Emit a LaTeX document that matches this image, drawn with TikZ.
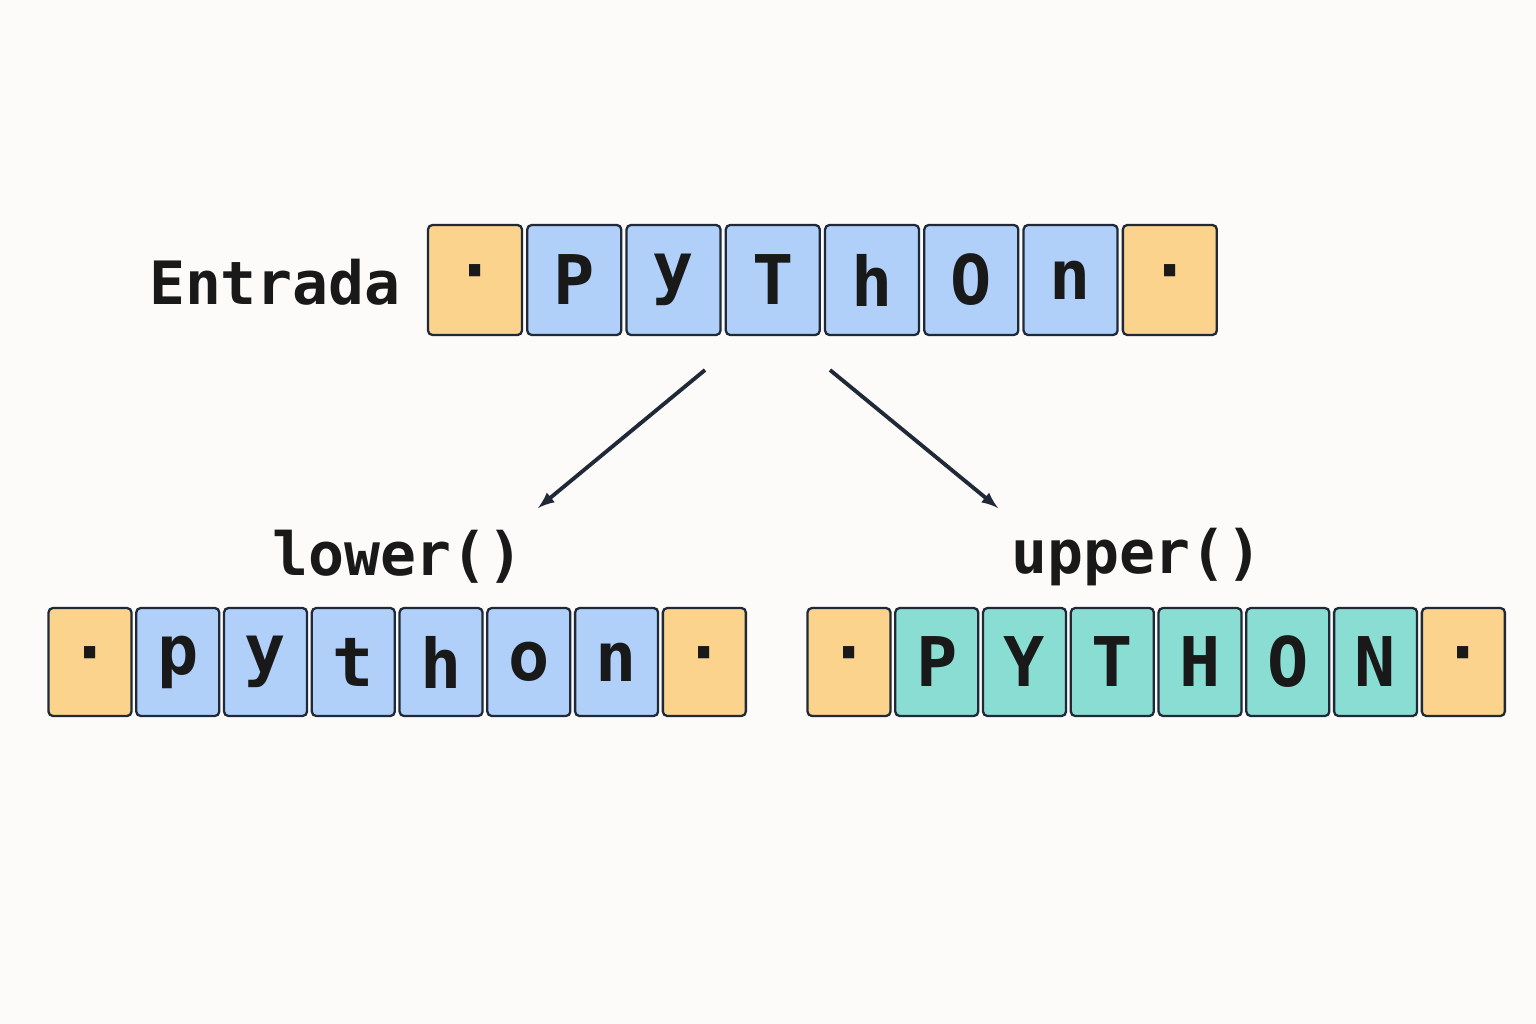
\documentclass[tikz,border=0pt]{standalone}
\usepackage{fontspec}
\setmonofont{DejaVu Sans Mono}
\usetikzlibrary{positioning}
\definecolor{bgcol}{HTML}{FCFBF9}
\definecolor{edgecol}{HTML}{1F2937}
\definecolor{padcol}{HTML}{FBD38D}
\definecolor{bluecol}{HTML}{B0D0FA}
\definecolor{tealcol}{HTML}{8ADDD3}
\tikzset{
  cell/.style={draw=edgecol,line width=1.3pt,rounded corners=2.5pt,inner sep=0pt,
    font=\fontsize{39}{39}\selectfont\ttfamily\bfseries,text=black!90},
  bigcell/.style={cell,minimum width=1.88cm,minimum height=2.2cm},
  smallcell/.style={cell,minimum width=1.66cm,minimum height=2.16cm},
  lbl/.style={font=\fontsize{34}{34}\selectfont\ttfamily\bfseries,text=black!90},
  arr/.style={-latex,line width=2.2pt,draw=edgecol,shorten >=0pt}
}
\begin{document}
\begin{tikzpicture}[x=0.02cm,y=-0.02cm]
  \fill[bgcol] (0,0) rectangle (1536,1024);
  \useasboundingbox (0,0) rectangle (1536,1024);
  % entrada
  \node[bigcell,fill=padcol] (top0) at (475,280) {·};
  \foreach \c [count=\i from 1] in {P,y,T,h,O,n} {
    \pgfmathtruncatemacro\j{\i-1}
    \node[bigcell,fill=bluecol,right=0.06cm of top\j] (top\i) {\c};
  }
  \node[bigcell,fill=padcol,right=0.06cm of top6] (top7) {·};
  \node[lbl,anchor=east] (entrada) at (407,282) {Entrada};
  % lower
  \node[smallcell,fill=padcol] (low0) at (90,662) {·};
  \foreach \c [count=\i from 1] in {p,y,t,h,o,n} {
    \pgfmathtruncatemacro\j{\i-1}
    \node[smallcell,fill=bluecol,right=0.05cm of low\j] (low\i) {\c};
  }
  \node[smallcell,fill=padcol,right=0.05cm of low6] (low7) {·};
  \node[lbl] (lower) at (398,557) {lower()};
  % upper
  \node[smallcell,fill=padcol] (up0) at (849,662) {·};
  \foreach \c [count=\i from 1] in {P,Y,T,H,O,N} {
    \pgfmathtruncatemacro\j{\i-1}
    \node[smallcell,fill=tealcol,right=0.05cm of up\j] (up\i) {\c};
  }
  \node[smallcell,fill=padcol,right=0.05cm of up6] (up7) {·};
  \node[lbl] (upper) at (1137,557) {upper()};
  % flechas
  \coordinate (srcL) at (705,370);
  \coordinate (dstL) at (538,508);
  \coordinate (srcR) at (830,370);
  \coordinate (dstR) at (998,508);
  \draw[arr] (srcL) -- (dstL);
  \draw[arr] (srcR) -- (dstR);
\end{tikzpicture}
\end{document}
